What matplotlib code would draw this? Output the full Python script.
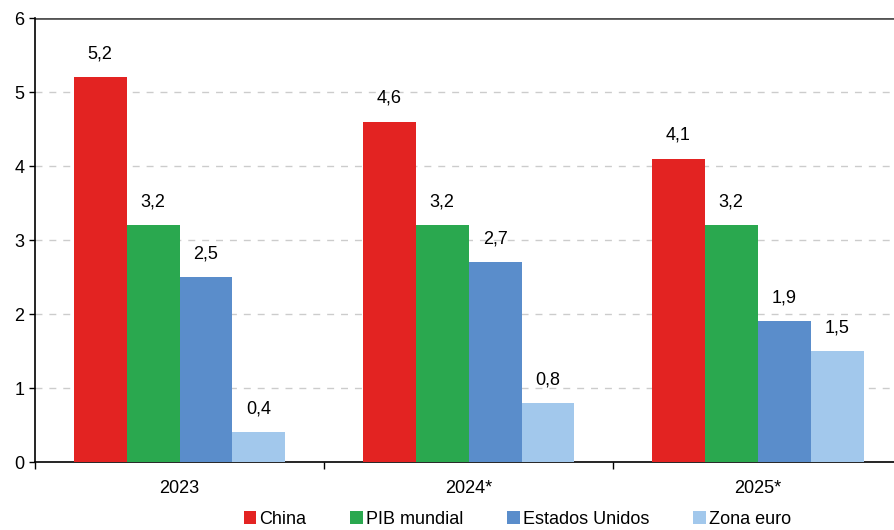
import matplotlib
matplotlib.use("Agg")
import matplotlib.pyplot as plt
import numpy as np

plt.rcParams["font.family"] = ["Liberation Sans", "DejaVu Sans"]

# Data
years = ["2023", "2024*", "2025*"]
series = ["China", "PIB mundial", "Estados Unidos", "Zona euro"]
china = [5.2, 4.6, 4.1]
pib_mundial = [3.2, 3.2, 3.2]
estados_unidos = [2.5, 2.7, 1.9]
zona_euro = [0.4, 0.8, 1.5]
colors = ["#E32322", "#2AA84F", "#5A8DCB", "#A2C8EC"]

values = [china, pib_mundial, estados_unidos, zona_euro]

fig = plt.figure(figsize=(8.95, 5.3), dpi=100)
ax = fig.add_axes([0.0391, 0.1283, 0.969, 0.8377])

x = np.arange(len(years))
w = 0.183
for i, (vals, name, c) in enumerate(zip(values, series, colors)):
    pos = x + (i - 1.5) * w
    ax.bar(pos, vals, width=w, color=c, label=name, zorder=3)
    for p, v in zip(pos, vals):
        ax.text(p, v + 0.2, f"{v:.1f}".replace(".", ","), ha="center",
                va="bottom", fontsize=13)

ax.set_xlim(-0.5, 2.5)
ax.set_ylim(0, 6)
ax.set_yticks(range(0, 7))
ax.tick_params(axis="y", labelsize=13, length=4, direction="out", width=1)
ax.set_xticks(x)
ax.set_xticklabels(years, fontsize=13)
ax.tick_params(axis="x", length=0, pad=13)
ax.set_xticks([-0.5, 0.5, 1.5, 2.5], minor=True)
ax.tick_params(axis="x", which="minor", length=5, direction="out", width=1)

for yv in range(1, 6):
    ax.axhline(yv, color="#cccccc", linestyle=(0, (5, 5)), linewidth=1, zorder=1)
ax.axhline(6, color="#555555", linewidth=2, zorder=2)

ax.spines["top"].set_visible(False)
ax.spines["right"].set_visible(False)
ax.spines["left"].set_linewidth(1.2)
ax.spines["bottom"].set_linewidth(1.2)

fig.legend(loc="lower center", bbox_to_anchor=(0.578, -0.027), ncol=4,
           frameon=False, fontsize=13, handlelength=0.7, handleheight=0.7,
           handletextpad=0.15, columnspacing=2.45)

fig.savefig("out.png", dpi=100)
